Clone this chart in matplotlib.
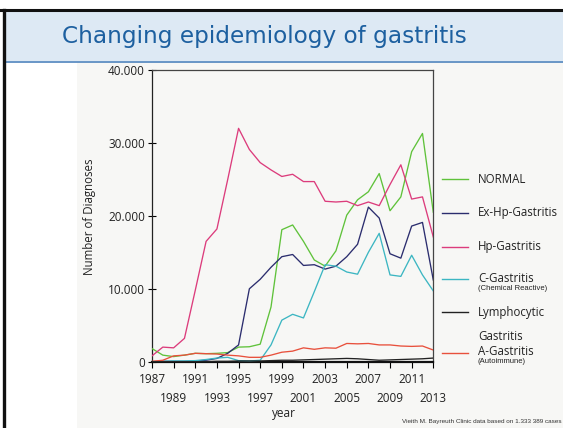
import matplotlib
matplotlib.use("Agg")
import matplotlib.pyplot as plt
from matplotlib.patches import Rectangle
from matplotlib.lines import Line2D
import numpy as np

years = list(range(1987, 2014))

normal = [1.8, 0.9, 0.7, 0.9, 1.15, 1.1, 1.15, 1.25, 2.0, 2.05, 2.4, 7.5, 18.1, 18.75,
          16.5, 13.95, 13.1, 15.2, 20.1, 22.2, 23.3, 25.8, 20.7, 22.6, 28.8, 31.3, 20.5]
ex_hp = [0.0, 0.05, 0.05, 0.05, 0.1, 0.2, 0.45, 1.15, 2.3, 10.0, 11.3, 12.95, 14.4, 14.7,
         13.2, 13.3, 12.7, 13.1, 14.4, 16.1, 21.2, 19.7, 14.8, 14.2, 18.6, 19.1, 11.2]
hp = [0.8, 2.0, 1.9, 3.2, 9.8, 16.5, 18.2, 25.0, 32.0, 29.1, 27.3, 26.3, 25.4, 25.7,
      24.7, 24.7, 22.0, 21.9, 22.0, 21.4, 21.9, 21.4, 24.3, 27.0, 22.3, 22.6, 17.1]
c_gastritis = [0.0, 0.05, 0.1, 0.1, 0.15, 0.3, 0.5, 0.6, 0.15, 0.1, 0.2, 2.3, 5.7, 6.5,
               6.0, 9.6, 13.3, 13.1, 12.3, 12.0, 15.0, 17.6, 11.9, 11.7, 14.6, 11.9, 9.7]
lymphocytic = [0.0, 0.0, 0.0, 0.0, 0.0, 0.0, 0.05, 0.05, 0.1, 0.1, 0.1, 0.15, 0.2, 0.2,
               0.25, 0.3, 0.35, 0.4, 0.45, 0.4, 0.3, 0.2, 0.25, 0.3, 0.35, 0.4, 0.5]
a_gastritis = [0.05, 0.2, 0.8, 0.9, 1.15, 1.1, 1.05, 0.9, 0.8, 0.6, 0.6, 0.9, 1.3, 1.45,
               1.9, 1.7, 1.9, 1.85, 2.5, 2.45, 2.5, 2.3, 2.3, 2.15, 2.1, 2.15, 1.6]

series = [
    ("NORMAL", None, normal, "#5fc23a"),
    ("Ex-Hp-Gastritis", None, ex_hp, "#2b2d6e"),
    ("Hp-Gastritis", None, hp, "#dc3c7c"),
    ("C-Gastritis", "(Chemical Reactive)", c_gastritis, "#3cb6c2"),
    ("Lymphocytic", None, lymphocytic, "#222222"),
    ("A-Gastritis", "(Autoimmune)", a_gastritis, "#e8503c"),
]

W, H = 563, 428
fig = plt.figure(figsize=(W / 100, H / 100), dpi=100)
fig.patch.set_facecolor("white")

def fx(x):
    return x / W

def fy(y):
    return 1 - y / H

# scanned chart background
fig.patches.append(Rectangle((fx(77), 0), fx(W) - fx(77), fy(62), transform=fig.transFigure,
                             facecolor="#f7f7f5", edgecolor="none", zorder=-10))
# title band
fig.patches.append(Rectangle((fx(4), fy(61)), 1, fy(10) - fy(61), transform=fig.transFigure,
                             facecolor="#dde9f4", edgecolor="none", zorder=-10))
fig.lines.append(Line2D([fx(4), 1], [fy(61.5), fy(61.5)], transform=fig.transFigure,
                        color="#4f84bd", lw=1.2, zorder=-5))
fig.lines.append(Line2D([0, 1], [fy(10), fy(10)], transform=fig.transFigure,
                        color="#111111", lw=2.2, zorder=-5))
fig.lines.append(Line2D([fx(4), fx(4)], [0, fy(10)], transform=fig.transFigure,
                        color="#111111", lw=2.4, zorder=-5))

fig.text(fx(264.5), fy(37), "Changing epidemiology of gastritis", ha="center", va="center",
         color="#1d60a0", fontsize=16.7, family="DejaVu Sans")

ax = fig.add_axes([fx(152), fy(361.7), fx(433.3) - fx(152), fy(70) - fy(361.7)])
ax.set_zorder(1)
ax.set_facecolor("none")
for name, sub, vals, col in series:
    ax.plot(years, np.array(vals) * 1000, color=col, lw=0.95,
            zorder=4 if name == "Lymphocytic" else 3)

ax.set_xlim(1987, 2013)
ax.set_ylim(0, 40000)
row1 = list(range(1987, 2014, 4))
row2 = list(range(1989, 2014, 4))
ax.set_xticks(row1)
ax.set_xticklabels([str(y) for y in row1], family="Open Sans", fontsize=8.5)
ax.set_xticks(row2, minor=True)
ax.set_xticklabels([str(y) for y in row2], minor=True, family="Open Sans", fontsize=8.5)
yt = [0, 10000, 20000, 30000, 40000]
ax.set_yticks(yt)
ax.set_yticklabels(["0", "10.000", "20.000", "30.000", "40.000"], family="Open Sans", fontsize=8.5)
ax.tick_params(axis="y", direction="inout", length=6, width=0.8, pad=2, labelcolor="#222222")
ax.tick_params(axis="x", which="major", direction="out", length=4, width=0.8, pad=4,
               labelcolor="#222222")
ax.tick_params(axis="x", which="minor", direction="out", length=4, width=0.8, pad=18,
               labelcolor="#222222")
for s in ax.spines.values():
    s.set_color("#444444")
    s.set_linewidth(0.9)
ax.spines["left"].set_color("#222222")
ax.spines["bottom"].set_linewidth(1.6)
ax.spines["bottom"].set_color("#111111")

fig.text(fx(89), fy(217), "Number of Diagnoses", rotation=90, ha="center", va="center",
         family="Open Sans", fontsize=8.3, color="#222222")
fig.text(fx(284), fy(413), "year", ha="center", va="center", family="Open Sans",
         fontsize=8.5, color="#222222")

# legend
leg_y = [179.3, 212.7, 246.7, 279, 312.3, 352.7]
for (name, sub, vals, col), yy in zip(series, leg_y):
    fig.lines.append(Line2D([fx(441.5), fx(468)], [fy(yy), fy(yy)], transform=fig.transFigure,
                            color=col, lw=1.0))
    ty = yy - 1 if sub else yy
    fig.text(fx(478), fy(ty), name, ha="left", va="center", family="Open Sans",
             fontsize=8.3, color="#222222")
    if sub:
        fig.text(fx(478), fy(ty + 10), sub, ha="left", va="center", family="Liberation Sans",
                 fontsize=5.5, color="#222222")
fig.text(fx(478), fy(336), "Gastritis", ha="left", va="center", family="Open Sans",
         fontsize=8.3, color="#222222")

fig.text(fx(562), fy(422), "Vieith M. Bayreuth Clinic data based on 1.333 389 cases",
         ha="right", va="center", family="Liberation Sans", fontsize=4.6, color="#333333")

fig.savefig("out.png", dpi=100)
